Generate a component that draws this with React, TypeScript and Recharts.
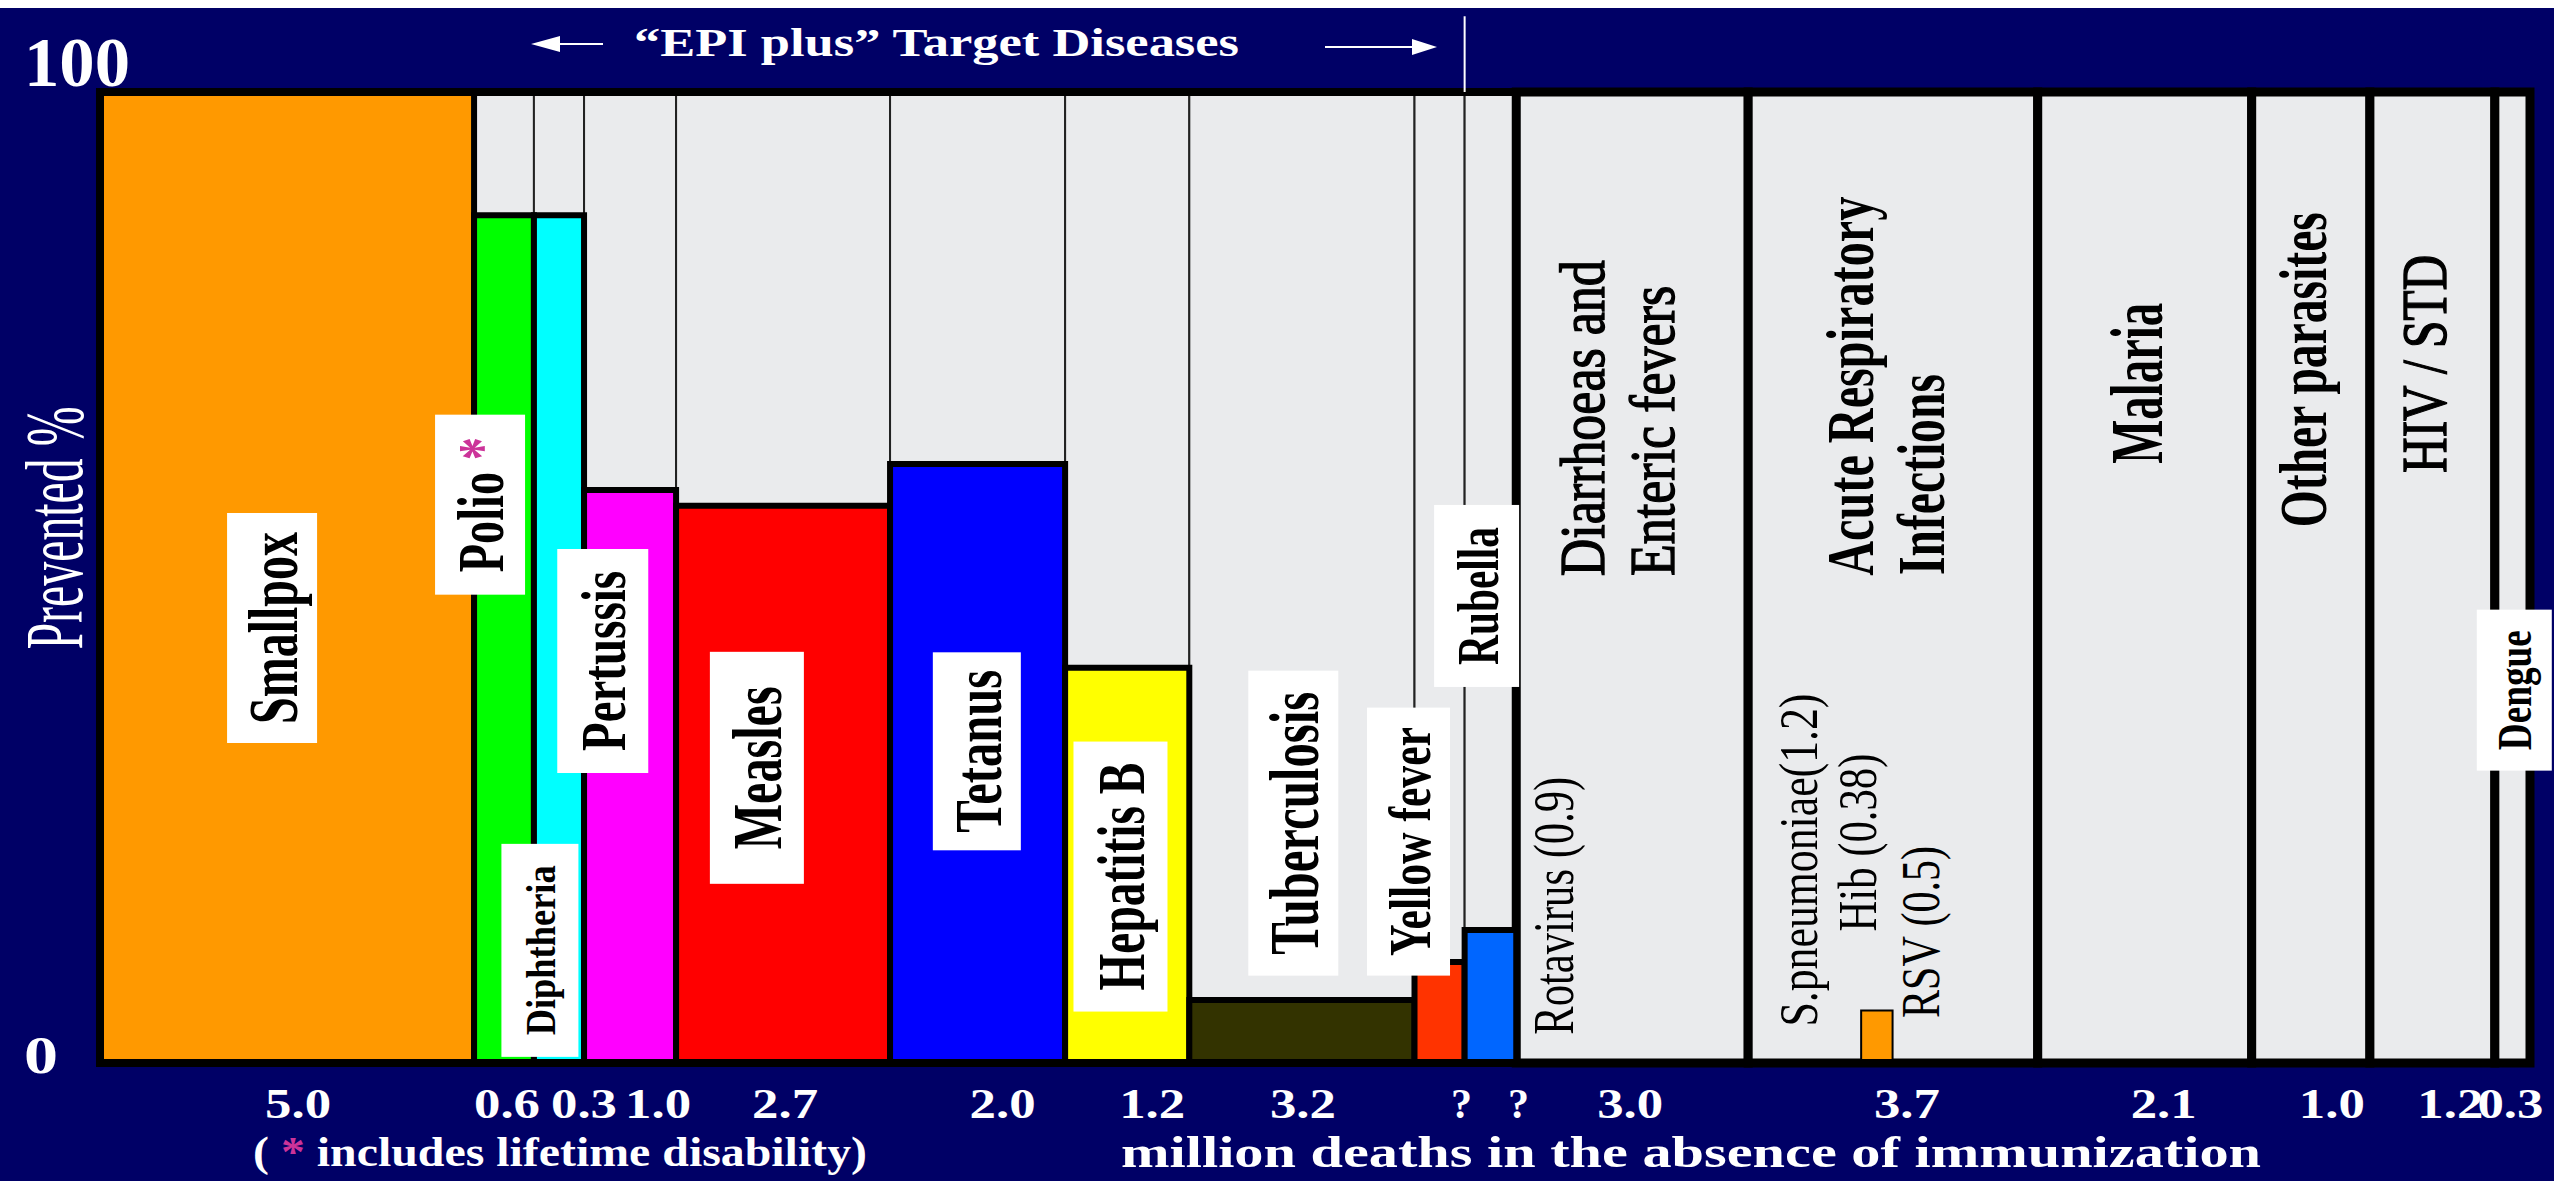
import React from 'react';
import { ComposedChart, XAxis, YAxis, Scatter, ReferenceArea, ReferenceDot, ReferenceLine } from 'recharts';

const SERIF = "'Liberation Serif', 'Times New Roman', Times, serif";

// columns, left to right
const diseases = [
  'Smallpox', 'Polio', 'Diphtheria', 'Pertussis', 'Measles', 'Tetanus', 'Hepatitis B',
  'Tuberculosis', 'Yellow fever', 'Rubella', 'Diarrhoeas and Enteric fevers',
  'Acute Respiratory Infections', 'Malaria', 'Other parasites', 'HIV / STD', 'Dengue',
];
// million deaths in the absence of immunization (as printed under each column)
const deaths = ['5.0', '0.6', '0.3', '1.0', '2.7', '2.0', '1.2', '3.2', '?', '?', '3.0', '3.7', '2.1', '1.0', '1.2', '0.3'];
// column widths as drawn on the slide
const spans = [5.0, 0.8, 0.67, 1.23, 2.86, 2.34, 1.66, 3.01, 0.67, 0.69, 3.1, 3.87, 2.86, 1.58, 1.67, 0.47];
// prevented %
const prevented = [100, 87.3, 87.3, 59.0, 57.4, 61.7, 40.7, 6.5, 10.4, 13.7, 0, 0, 0, 0, 0, 0];
const epiPlus = [true, true, true, true, true, true, true, true, true, true, false, false, false, false, false, false];

// Hib bar inside the ARI column
const subBars = [{ name: 'Hib', start: 23.54, span: 0.42, value: 5.4 }];

const barColors = [
  '#ff9900', '#00ff00', '#00ffff', '#ff00ff', '#ff0000', '#0000ff', '#ffff00',
  '#333300', '#ff3300', '#0066ff', '#eaebed', '#eaebed', '#eaebed', '#eaebed', '#eaebed', '#eaebed',
];

const starts = spans.map((_, i) => spans.slice(0, i).reduce((a, b) => a + b, 0));
const total = spans.reduce((a, b) => a + b, 0);
const mids = starts.map((s, i) => s + spans[i] / 2);
const epiEnd = starts[9]; // border between yellow fever and rubella

const rows = mids.map((m, i) => ({ mid: m, pct: prevented[i], name: diseases[i] }));

// nudges of the printed numbers (px)
const tickNudge = [11, 3, 25, 28, 2, 25, 25, 1, 22, 28, -2, 14, 19, 21, 18, -2];

type Lab = {
  text: string; x: number; y: number; size: number; len: number;
  weight?: 'bold' | 'medium'; box?: [number, number]; star?: boolean;
};

const labels: Lab[] = [
  { text: 'Smallpox', x: 2.3, y: 44.8, size: 70, len: 192, weight: 'bold', box: [90, 230] },
  { text: 'Polio', x: 5.08, y: 57.5, size: 66, len: 135, weight: 'bold', box: [90, 180], star: true },
  { text: 'Diphtheria', x: 5.88, y: 11.6, size: 42, len: 170, weight: 'bold', box: [77, 213] },
  { text: 'Pertussis', x: 6.72, y: 41.4, size: 63, len: 180, weight: 'bold', box: [91, 224] },
  { text: 'Measles', x: 8.78, y: 30.4, size: 70, len: 163, weight: 'bold', box: [94, 232] },
  { text: 'Tetanus', x: 11.72, y: 32.1, size: 68, len: 163, weight: 'bold', box: [88, 198] },
  { text: 'Hepatitis B', x: 13.64, y: 19.2, size: 68, len: 228, weight: 'bold', box: [94, 270] },
  { text: 'Tuberculosis', x: 15.95, y: 24.7, size: 70, len: 263, weight: 'bold', box: [90, 305] },
  { text: 'Yellow fever', x: 17.49, y: 22.8, size: 60, len: 229, weight: 'bold', box: [83, 268] },
  { text: 'Rubella', x: 18.4, y: 48.1, size: 60, len: 138, weight: 'bold', box: [85, 182] },
  { text: 'Dengue', x: 32.27, y: 38.4, size: 48, len: 120, weight: 'bold', box: [75, 161] },
  { text: 'Rotavirus (0.9)', x: 19.42, y: 16.2, size: 56, len: 258 },
  { text: 'Diarrhoeas and', x: 19.8, y: 66.4, size: 64, len: 316, weight: 'medium' },
  { text: 'Enteric fevers', x: 20.74, y: 65.1, size: 63, len: 290, weight: 'medium' },
  { text: 'Acute Respiratory', x: 23.38, y: 69.7, size: 68, len: 379, weight: 'bold' },
  { text: 'Infections', x: 24.33, y: 60.6, size: 68, len: 201, weight: 'bold' },
  { text: 'S.pneumoniae(1.2)', x: 22.7, y: 20.9, size: 54, len: 333 },
  { text: 'Hib (0.38)', x: 23.49, y: 22.7, size: 54, len: 178 },
  { text: 'RSV (0.5)', x: 24.33, y: 13.5, size: 54, len: 172 },
  { text: 'Malaria', x: 27.22, y: 70.0, size: 74, len: 161, weight: 'bold' },
  { text: 'Other parasites', x: 29.43, y: 71.4, size: 68, len: 315, weight: 'bold' },
  { text: 'HIV / STD', x: 31.06, y: 72.0, size: 64, len: 218, weight: 'medium' },
];

function RotLabel({ cx, cy, lab }: { cx: number; cy: number; lab: Lab }) {
  const [w, h] = lab.box ?? [0, 0];
  const medium = lab.weight === 'medium';
  return (
    <g>
      {lab.box && <rect x={cx - w / 2} y={cy - h / 2} width={w} height={h} fill="#ffffff" />}
      <text
        x={cx}
        y={cy}
        dy="0.35em"
        transform={`rotate(-90 ${cx} ${cy})`}
        textAnchor="middle"
        fontFamily={SERIF}
        fontSize={lab.size}
        fontWeight={lab.weight === 'bold' ? 'bold' : 'normal'}
        fill="#000"
        stroke={medium ? '#000' : 'none'}
        strokeWidth={medium ? 1.4 : 0}
        textLength={lab.len}
        lengthAdjust="spacingAndGlyphs"
      >
        {lab.text}
        {lab.star && <tspan fill="#cc3399">{' *'}</tspan>}
      </text>
    </g>
  );
}

const DeathTick = (p: any) => {
  const i = p.index;
  const s = deaths[i];
  return (
    <text
      x={p.x + tickNudge[i]}
      y={p.y + 55}
      textAnchor="middle"
      fill="#ffffff"
      fontFamily={SERIF}
      fontSize={42}
      fontWeight="bold"
      textLength={s.length > 1 ? 66 : undefined}
      lengthAdjust="spacingAndGlyphs"
    >
      {s}
    </text>
  );
};

const PercentTick = (p: any) => {
  const v = p.payload.value;
  return (
    <text
      x={24}
      y={p.y + (v === 100 ? -6 : 10)}
      fill="#ffffff"
      fontFamily={SERIF}
      fontSize={v === 100 ? 70 : 52}
      fontWeight="bold"
      textLength={v === 100 ? 106 : 34}
      lengthAdjust="spacingAndGlyphs"
    >
      {v}
    </text>
  );
};

export default function App() {
  return (
    <div style={{ position: 'absolute', left: 0, top: 0, width: 2554, height: 1181, background: '#ffffff' }}>
      <div style={{ position: 'absolute', left: 0, top: 8, width: 2554, height: 1173, background: '#000066' }}>
        <ComposedChart width={2554} height={1173} data={rows} margin={{ top: 84, right: 24, bottom: 0, left: 10 }}>
          <XAxis
            dataKey="mid"
            type="number"
            domain={[0, total]}
            allowDataOverflow
            ticks={mids}
            interval={0}
            height={118}
            axisLine={false}
            tickLine={false}
            tickSize={0}
            tickMargin={0}
            tick={DeathTick}
          />
          <YAxis
            dataKey="pct"
            type="number"
            domain={[0, 100]}
            allowDataOverflow
            ticks={[0, 100]}
            interval={0}
            width={90}
            axisLine={false}
            tickLine={false}
            tick={PercentTick}
          />
          <Scatter dataKey="pct" shape={() => <g />} isAnimationActive={false} />
          {diseases.map((d, i) => (
            <ReferenceArea
              key={`bg-${d}`}
              x1={starts[i]}
              x2={starts[i] + spans[i]}
              y1={0}
              y2={100}
              fill="#eaebed"
              fillOpacity={1}
              stroke={epiPlus[i] ? '#222222' : '#000000'}
              strokeWidth={epiPlus[i] ? 2 : 9}
            />
          ))}
          {diseases.map((d, i) =>
            prevented[i] > 0 ? (
              <ReferenceArea
                key={`bar-${d}`}
                x1={starts[i]}
                x2={starts[i] + spans[i]}
                y1={0}
                y2={prevented[i]}
                fill={barColors[i]}
                fillOpacity={1}
                stroke="#000000"
                strokeWidth={6}
              />
            ) : null
          )}
          {subBars.map((b) => (
            <ReferenceArea
              key={`sub-${b.name}`}
              x1={b.start}
              x2={b.start + b.span}
              y1={0}
              y2={b.value}
              fill="#ff9900"
              fillOpacity={1}
              stroke="#000000"
              strokeWidth={2}
            />
          ))}
          <ReferenceArea x1={0} x2={total} y1={0} y2={100} fill="none" stroke="#000000" strokeWidth={8} />
          <ReferenceLine
            segment={[{ x: epiEnd, y: 100 }, { x: epiEnd, y: 107.8 }]}
            stroke="#ffffff"
            strokeWidth={2}
            ifOverflow="visible"
          />
          {labels.map((l) => (
            <ReferenceDot
              key={`lab-${l.text}`}
              x={l.x}
              y={l.y}
              r={0}
              shape={(p: any) => <RotLabel cx={p.cx} cy={p.cy} lab={l} />}
            />
          ))}
        </ComposedChart>
        <svg width={2554} height={1173} style={{ position: 'absolute', left: 0, top: 0, pointerEvents: 'none' }}>
          <g transform="translate(0,-8)" fontFamily={SERIF} fill="#ffffff">
            <text
              x={53}
              y={528}
              dy="0.35em"
              transform="rotate(-90 53 528)"
              textAnchor="middle"
              fontSize={82}
              textLength={243}
              lengthAdjust="spacingAndGlyphs"
            >
              Prevented %
            </text>
            <line x1={556} y1={44} x2={603} y2={44} stroke="#ffffff" strokeWidth={2} />
            <polygon points="531,44 560,36 560,52" fill="#ffffff" />
            <text x={634} y={56} fontSize={40} fontWeight="bold" textLength={605} lengthAdjust="spacingAndGlyphs">
              “EPI plus” Target Diseases
            </text>
            <line x1={1325} y1={47} x2={1416} y2={47} stroke="#ffffff" strokeWidth={2} />
            <polygon points="1437,47 1412,39 1412,55" fill="#ffffff" />
            <text x={253} y={1166} fontSize={42} fontWeight="bold" textLength={614} lengthAdjust="spacingAndGlyphs">
              {'( '}
              <tspan fill="#cc3399">*</tspan>
              {' includes lifetime disability)'}
            </text>
            <text x={1121} y={1167} fontSize={44} fontWeight="bold" textLength={1140} lengthAdjust="spacingAndGlyphs">
              million deaths in the absence of immunization
            </text>
          </g>
        </svg>
      </div>
    </div>
  );
}
